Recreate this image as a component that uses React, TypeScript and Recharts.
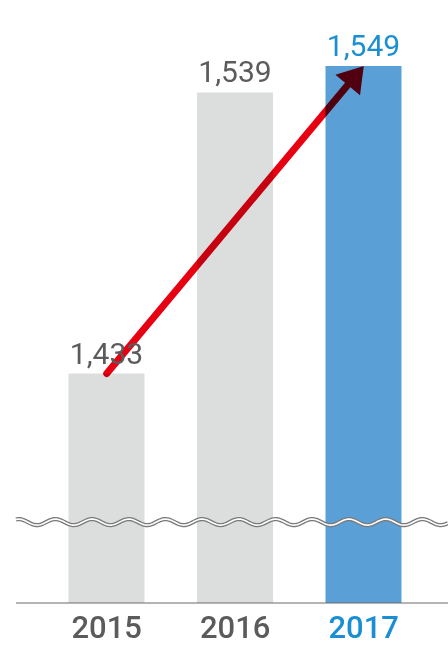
import React from 'react';
import { ComposedChart, Bar, Cell, XAxis, YAxis, LabelList, ReferenceLine } from 'recharts';

const years = ['2015', '2016', '2017'];
const counts = [1433, 1539, 1549];
const highlightYear = '2017';
// where the broken-axis squiggle sits on the value scale
const axisBreak = 1377;

const GREY = '#dcdedd';
const BLUE = '#5a9fd6';
const BLUE_TEXT = '#1a8fd3';
const TEXT = '#5b5b5b';
const FONT = 'Roboto, "Noto Sans", sans-serif';

const data = years.map((year, i) => ({ year, count: counts[i] }));

const fmt = (v: number) => v.toLocaleString('en-US');

// value label above each bar
const renderValue = (props: any) => {
  const { x, y, width, value, index } = props;
  const hot = years[index] === highlightYear;
  return (
    <text
      x={Number(x) + Number(width) / 2}
      y={Number(y) - 10}
      textAnchor="middle"
      fontFamily={FONT}
      fontSize={30}
      fontWeight={400}
      fill={hot ? BLUE_TEXT : TEXT}
    >
      {fmt(Number(value))}
    </text>
  );
};

const renderTick = (props: any) => {
  const { x, y, payload } = props;
  const hot = payload.value === highlightYear;
  return (
    <text
      x={x}
      y={Number(y) + 35}
      textAnchor="middle"
      fontFamily={FONT}
      fontSize={31}
      fontWeight={500}
      fill={hot ? BLUE_TEXT : TEXT}
    >
      {payload.value}
    </text>
  );
};

// red growth arrow, multiplied over the bars
const renderArrow = (props: any) => {
  const { x1, y1, x2, y2 } = props;
  const dx = x2 - x1;
  const dy = y2 - y1;
  const len = Math.sqrt(dx * dx + dy * dy);
  const ux = dx / len;
  const uy = dy / len;
  const headLen = 25;
  const half = 16;
  const bx = x2 - ux * headLen;
  const by = y2 - uy * headLen;
  const head = [
    [x2, y2],
    [bx - uy * half, by + ux * half],
    [bx + uy * half, by - ux * half],
  ]
    .map((p) => p.join(','))
    .join(' ');
  return (
    <g style={{ mixBlendMode: 'multiply' }}>
      <line
        x1={x1}
        y1={y1}
        x2={bx + ux * 2}
        y2={by + uy * 2}
        stroke="#e60012"
        strokeWidth={7}
        strokeLinecap="round"
      />
      <polygon points={head} fill="#e60012" />
    </g>
  );
};

// squiggle across the full axis width
const renderBreak = (props: any) => {
  const { x1, x2, y1 } = props;
  const pts: string[] = [];
  for (let x = x1; x <= x2; x += 1) {
    const y = y1 + 3 * Math.cos((2 * Math.PI * (x - 37)) / 36.7);
    pts.push(`${x},${y.toFixed(2)}`);
  }
  const d = 'M' + pts.join(' L');
  return (
    <g>
      <path d={d} fill="none" stroke="#7a7a7a" strokeWidth={4.2} />
      <path d={d} fill="none" stroke="#ffffff" strokeWidth={1.6} />
    </g>
  );
};

export default function App() {
  return (
    <div style={{ position: 'fixed', left: 0, top: 0, width: 448, height: 646, background: '#fff' }}>
      <ComposedChart
        width={448}
        height={646}
        data={data}
        margin={{ top: 20, right: 0, bottom: 0, left: 16 }}
      >
        <XAxis
          dataKey="year"
          height={43}
          padding={{ left: 26.5, right: 20 }}
          axisLine={{ stroke: '#6b6b6b', strokeWidth: 1.2 }}
          tickLine={false}
          tickSize={0}
          tickMargin={0}
          tick={renderTick}
          interval={0}
        />
        <YAxis hide domain={[1346.5, 1566.3]} allowDataOverflow />
        <Bar dataKey="count" barSize={76} isAnimationActive={false}>
          {data.map((d) => (
            <Cell key={d.year} fill={d.year === highlightYear ? BLUE : GREY} />
          ))}
          <LabelList dataKey="count" content={renderValue} />
        </Bar>
        <ReferenceLine y={axisBreak} shape={renderBreak} />
        <ReferenceLine
          segment={[
            { x: years[0], y: counts[0] },
            { x: years[years.length - 1], y: counts[counts.length - 1] },
          ]}
          shape={renderArrow}
        />
      </ComposedChart>
    </div>
  );
}
